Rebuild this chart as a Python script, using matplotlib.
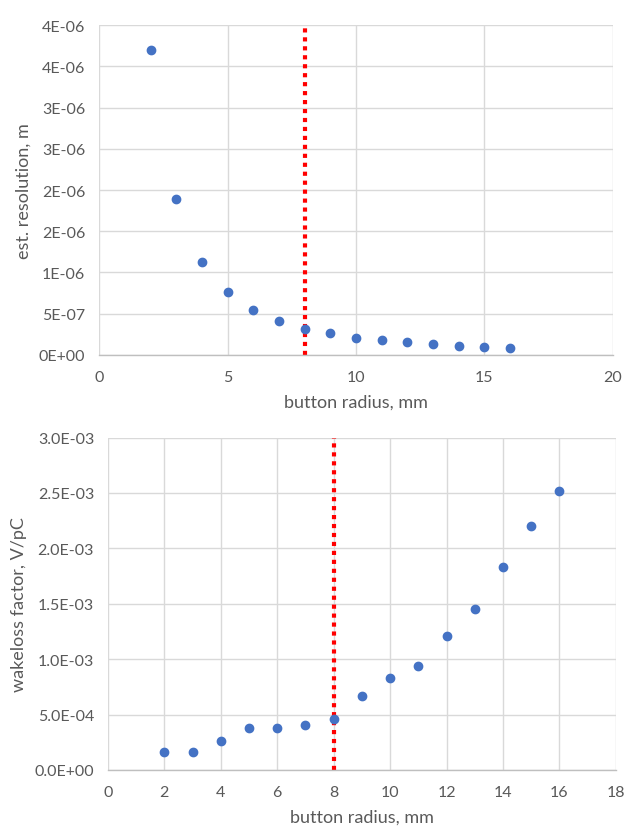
import numpy as np
import matplotlib
matplotlib.use('Agg')
import matplotlib.pyplot as plt

plt.rcParams['font.family'] = ['Lato', 'DejaVu Sans']

# button radius, mm
radius = [2, 3, 4, 5, 6, 7, 8, 9, 10, 11, 12, 13, 14, 15, 16]
# est. resolution, m
resolution = [3.70e-6, 1.89e-6, 1.13e-6, 7.6e-7, 5.45e-7, 4.08e-7, 3.15e-7,
              2.63e-7, 2.06e-7, 1.82e-7, 1.54e-7, 1.30e-7, 1.13e-7, 1.00e-7, 8.9e-8]
# wakeloss factor, V/pC
wakeloss = [1.60e-4, 1.65e-4, 2.59e-4, 3.79e-4, 3.79e-4, 4.06e-4, 4.60e-4,
            6.68e-4, 8.28e-4, 9.42e-4, 1.21e-3, 1.45e-3, 1.833e-3, 2.20e-3, 2.516e-3]

top_yticks = [0, 5e-7, 1e-6, 1.5e-6, 2e-6, 2.5e-6, 3e-6, 3.5e-6, 4e-6]
top_ylabels = ['0E+00', '5E-07', '1E-06', '2E-06', '2E-06', '3E-06', '3E-06', '4E-06', '4E-06']
top_xticks = [0, 5, 10, 15, 20]
bot_yticks = [0, 5e-4, 1e-3, 1.5e-3, 2e-3, 2.5e-3, 3e-3]
bot_ylabels = ['0.0E+00', '5.0E-04', '1.0E-03', '1.5E-03', '2.0E-03', '2.5E-03', '3.0E-03']
bot_xticks = [0, 2, 4, 6, 8, 10, 12, 14, 16, 18]
cut_radius = 8

txt = '#595959'
grid = '#D9D9D9'
blue = '#4472C4'

fig = plt.figure(figsize=(6.24, 8.29), dpi=100)
ax1 = fig.add_axes([0.159, 0.5706, 0.823, 0.398])
ax2 = fig.add_axes([0.173, 0.070, 0.814, 0.401])


def style(ax, xt, yt, yl, xlabel, ylabel):
    ax.set_xticks(xt)
    ax.set_xlim(xt[0], xt[-1])
    ax.set_yticks(yt)
    ax.set_yticklabels(yl)
    ax.set_ylim(yt[0], yt[-1])
    ax.grid(True, color=grid, linewidth=1.0)
    ax.set_axisbelow(True)
    for s in ['top', 'right', 'left']:
        ax.spines[s].set_visible(False)
    ax.spines['bottom'].set_color('#BFBFBF')
    ax.spines['bottom'].set_linewidth(1.0)
    ax.tick_params(length=0, labelsize=11.5, colors=txt)
    ax.tick_params(axis='x', pad=11)
    ax.tick_params(axis='y', pad=10)
    ax.set_xlabel(xlabel, fontsize=13, color=txt, labelpad=7)
    ax.set_ylabel(ylabel, fontsize=13, color=txt, labelpad=5)


style(ax1, top_xticks, top_yticks, top_ylabels, 'button radius, mm', 'est. resolution, m')
ax1.plot([cut_radius, cut_radius], [0, top_yticks[-1]], color='red', linewidth=3.0,
         linestyle=(0, (1, 1.15)), zorder=2)
ax1.plot(radius, resolution, 'o', color=blue, markersize=6, zorder=3, clip_on=False)

style(ax2, bot_xticks, bot_yticks, bot_ylabels, 'button radius, mm', 'wakeloss factor, V/pC')
ax2.plot([cut_radius, cut_radius], [0, bot_yticks[-1]], color='red', linewidth=3.0,
         linestyle=(0, (1, 1.15)), zorder=2)
ax2.plot(radius, wakeloss, 'o', color=blue, markersize=6, zorder=3, clip_on=False)

fig.savefig('out.png', dpi=100, facecolor='white')
